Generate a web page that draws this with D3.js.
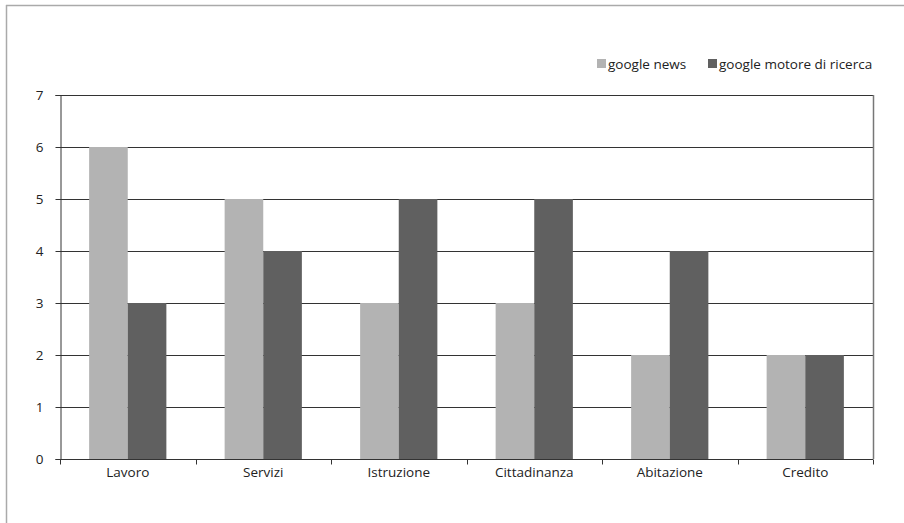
<!DOCTYPE html>
<html><head><meta charset="utf-8">
<script src="https://cdn.jsdelivr.net/npm/d3@7"></script>
<style>body{margin:0;background:#fff}svg{display:block}text{font-family:"Open Sans","DejaVu Sans Condensed",sans-serif;fill:#222}</style>
</head><body><svg id="c" width="904" height="523"></svg>
<script>
const categories = ["Lavoro","Servizi","Istruzione","Cittadinanza","Abitazione","Credito"];
const seriesNames = ["google news","google motore di ricerca"];
const newsValues = [6,5,3,3,2,2];
const motoreValues = [3,4,5,5,4,2];
const yTicks = [0,1,2,3,4,5,6,7];
const colors = ["#b3b3b3","#606060"];

const svg = d3.select("#c");
const m = {left:60, right:873, top:95, bottom:459};
const fs = 13.5;
// outer frame
svg.append("line").attr("x1",6).attr("x2",904).attr("y1",5.5).attr("y2",5.5).attr("stroke","#aaa").attr("stroke-width",1.5);
svg.append("line").attr("x1",6.5).attr("x2",6.5).attr("y1",5).attr("y2",523).attr("stroke","#aaa").attr("stroke-width",1.5);

const x = d3.scaleBand().domain(categories).range([m.left,m.right]).paddingInner(0.43).paddingOuter(0.215);
const xs = d3.scaleBand().domain(seriesNames).range([0,x.bandwidth()]);
const y = d3.scaleLinear().domain([0,7]).range([m.bottom,m.top]);

// gridlines
svg.append("g").selectAll("line").data(yTicks.filter(d=>d>0)).join("line")
  .attr("x1",m.left).attr("x2",m.right).attr("y1",d=>Math.round(y(d))+0.5).attr("y2",d=>Math.round(y(d))+0.5)
  .attr("stroke","#333").attr("stroke-width",1);
// right border
svg.append("line").attr("x1",m.right+0.5).attr("x2",m.right+0.5).attr("y1",m.top).attr("y2",m.bottom)
  .attr("stroke","#777").attr("stroke-width",1.5);

const data = categories.map((c,i)=>({c, vals:[newsValues[i],motoreValues[i]]}));
svg.append("g").selectAll("g").data(data).join("g")
  .attr("transform",d=>`translate(${x(d.c)},0)`)
  .selectAll("rect").data(d=>d.vals.map((v,j)=>({v,s:seriesNames[j],j}))).join("rect")
  .attr("x",d=>xs(d.s)).attr("width",xs.bandwidth())
  .attr("y",d=>y(d.v)).attr("height",d=>y(0)-y(d.v))
  .attr("fill",d=>colors[d.j]);

// y axis
const yAxis = d3.axisLeft(y).tickValues(yTicks).tickSize(5).tickPadding(12).tickFormat(d3.format("d"));
const ya = svg.append("g").attr("transform",`translate(${m.left+0.5},0)`).call(yAxis);
ya.select(".domain").attr("stroke","#333");
ya.selectAll(".tick line").attr("stroke","#333");
ya.selectAll("text").attr("font-size",fs).style("font-family",'"Open Sans",sans-serif').attr("fill","#222");

// x axis
const xa = svg.append("g").attr("transform",`translate(0,${m.bottom+0.5})`);
xa.append("line").attr("x1",m.left).attr("x2",m.right).attr("stroke","#333");
const bounds = d3.range(categories.length+1).map(i=>m.left+i*(m.right-m.left)/categories.length);
xa.selectAll("line.t").data(bounds).join("line").attr("class","t")
  .attr("x1",d=>Math.round(d)+0.5).attr("x2",d=>Math.round(d)+0.5).attr("y1",0).attr("y2",5).attr("stroke","#333");
xa.selectAll("text").data(categories).join("text")
  .attr("x",d=>x(d)+x.bandwidth()/2).attr("y",17.5).attr("text-anchor","middle")
  .attr("font-size",fs).text(d=>d);

// legend
const lg = svg.append("g");
const legX = [597, 708];
seriesNames.forEach((s,i)=>{
  lg.append("rect").attr("x",legX[i]).attr("y",59).attr("width",9).attr("height",9).attr("fill",colors[i]);
  lg.append("text").attr("x",legX[i]+11).attr("y",68.5).attr("font-size",fs).text(s);
});
</script></body></html>
